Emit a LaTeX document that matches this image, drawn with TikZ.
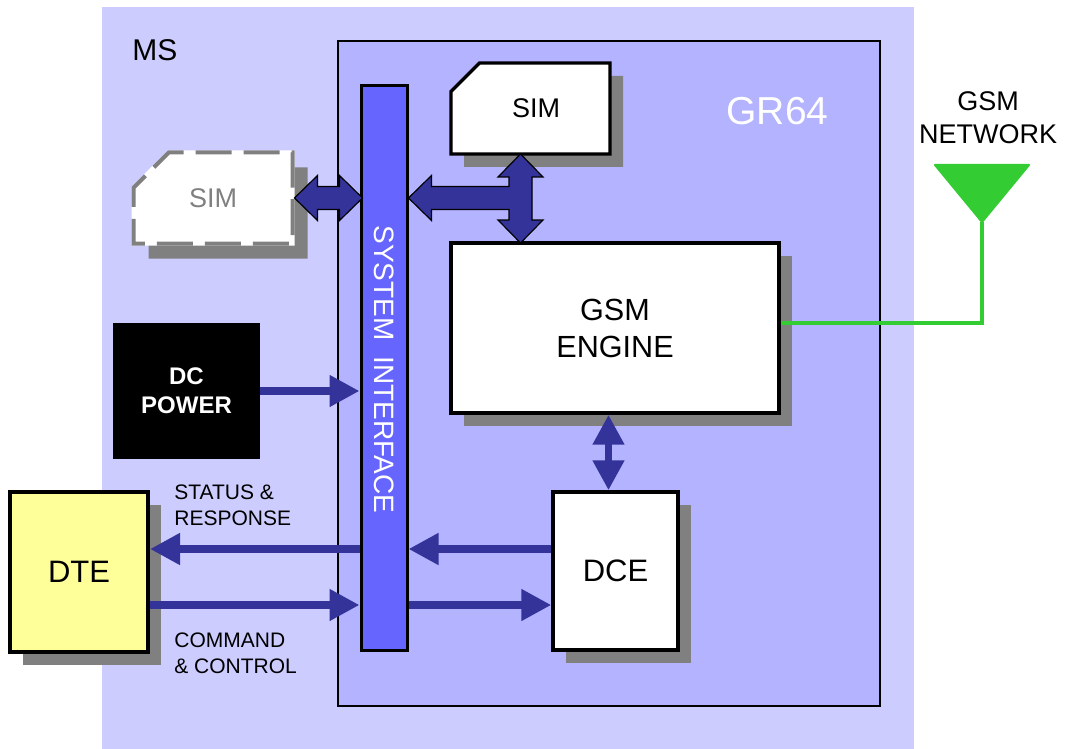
\documentclass[tikz,border=0pt]{standalone}
\usepackage{fontspec}
\setmainfont{Liberation Sans}
\usetikzlibrary{arrows.meta,shapes.misc,shadows}
\definecolor{msbg}{HTML}{CCCCFF}
\definecolor{grbg}{HTML}{B3B3FF}
\definecolor{busblue}{HTML}{6666FF}
\definecolor{arrowblue}{HTML}{333399}
\definecolor{dteyellow}{HTML}{FFFF99}
\definecolor{antgreen}{HTML}{33CC33}
\definecolor{shadowgray}{HTML}{808080}
\begin{document}
\begin{tikzpicture}[
    x=0.5pt, y=-0.5pt,
    box/.style = {draw=black, line width=1.7pt, fill=white, inner sep=0pt,
        drop shadow={shadow xshift=6.5pt, shadow yshift=-6.5pt, opacity=1, fill=shadowgray}},
    simcard/.style = {chamfered rectangle, chamfered rectangle corners=north west,
        chamfered rectangle xsep=10pt, chamfered rectangle ysep=9.5pt,
        minimum width=79.5pt, minimum height=45.5pt, font=\fontsize{13.5}{16}\selectfont},
    flow/.style = {draw=arrowblue, line width=3.9pt, -{Triangle[length=15pt, width=15pt]}},
    fat/.style = {fill=arrowblue, draw=black, line width=0.6pt},
    lbl/.style = {inner sep=0pt}
    ]
    \useasboundingbox (0,0) rectangle (1066,749);
    % frames
    \node[fill=msbg, minimum width=406pt, minimum height=371pt, inner sep=0pt] (ms) at (508,378) {};
    \node[lbl, anchor=base west, font=\fontsize{15}{18}\selectfont] (mslabel) at (132,61) {MS};
    \node[draw=black, line width=1.2pt, fill=grbg, minimum width=271pt, minimum height=332.5pt, inner sep=0pt] (gr) at (609,373.5) {};
    \node[lbl, anchor=base, text=white, font=\fontsize{19.5}{23}\selectfont] (grlabel) at (777.5,125) {GR64};
    % system interface
    \node[draw=black, line width=1.5pt, fill=busblue, minimum width=23pt, minimum height=282pt, inner sep=0pt] (bus) at (384,368) {};
    \node[lbl, rotate=-90, text=white, font=\fontsize{14}{17}\selectfont] (buslabel) at (384,369.5) {SYSTEM\ \ INTERFACE};
    % blocks
    \node[box, simcard] (sim) at (530.5,108.5) {\hspace*{5.5pt}SIM};
    \node[simcard, fill=white, draw=white, line width=2pt, text=shadowgray,
        drop shadow={shadow xshift=7.5pt, shadow yshift=-7.5pt, opacity=1, fill=shadowgray},
        postaction={draw=shadowgray, dash pattern=on 18pt off 6pt}] (extsim) at (213,198) {SIM};
    \node[box, minimum width=164pt, minimum height=85pt, align=center, font=\fontsize{15.3}{18.5}\selectfont] (engine) at (615,328) {GSM\\ENGINE};
    \node[box, minimum width=62.5pt, minimum height=79pt, font=\fontsize{15.5}{18}\selectfont] (dce) at (615.5,571) {DCE};
    \node[box, fill=dteyellow, line width=2pt, minimum width=69pt, minimum height=80pt, font=\fontsize{15.5}{18}\selectfont] (dte) at (79,572) {DTE};
    \node[fill=black, text=white, minimum width=73.5pt, minimum height=68pt, inner sep=0pt, align=center, font=\bfseries\fontsize{12}{14.5}\selectfont] (dc) at (186.5,391) {DC\\POWER};
    % texts
    \node[lbl, anchor=north west, align=left, font=\fontsize{10.5}{13}\selectfont] (stlabel) at (174,484) {STATUS \&\\RESPONSE};
    \node[lbl, anchor=north west, align=left, font=\fontsize{10.5}{13}\selectfont] (cmdlabel) at (174,632) {COMMAND\\\& CONTROL};
    \node[lbl, align=center, font=\fontsize{13.5}{16.5}\selectfont] (netlabel) at (988,117.5) {GSM\\NETWORK};
    % antenna
    \coordinate (anttip) at (982,222);
    \filldraw[antgreen, line width=1pt, line join=round] (anttip) -- ++(-47,-57) -- ++(94,0) -- cycle;
    \draw[antgreen, line width=2pt] ([yshift=2.5pt]engine.east) -| (anttip);
    % fat arrows
    \coordinate (sl) at (extsim.east);
    \draw[fat, shift={(sl)}] (0,0) -- (23,-22.5) -- (23,-11.5) -- (45,-11.5) -- (45,-22.5) -- (68,0)
        -- (45,22.5) -- (45,11.5) -- (23,11.5) -- (23,22.5) -- cycle;
    \draw[fat, shift={(bus.east |- sl)}] (0,0) -- (23,-22.5) -- (23,-11.5) -- (100.5,-11.5) -- (100.5,-21)
        -- (89.5,-21) -- (112,-44) -- (134.5,-21) -- (123.5,-21) -- (123.5,22) -- (134.5,22) -- (112,45)
        -- (89.5,22) -- (100.5,22) -- (100.5,11.5) -- (23,11.5) -- (23,22.5) -- cycle;
    % signal arrows
    \coordinate (st) at ([yshift=11.5pt]dte.east);
    \coordinate (cmd) at ([yshift=-16.5pt]dte.east);
    \draw[flow] (dc.east) -- (bus.west |- dc.east);
    \draw[flow] (bus.west |- st) -- (st);
    \draw[flow] (dce.west |- st) -- (bus.east |- st);
    \draw[flow] (cmd) -- (bus.west |- cmd);
    \draw[flow] (bus.east |- cmd) -- (dce.west |- cmd);
    \draw[flow, {Triangle[length=15pt, width=15pt]}-{Triangle[length=15pt, width=15pt]}]
        ([xshift=-3.25pt]engine.south) -- ([xshift=-3.25pt]engine.south |- dce.north);
\end{tikzpicture}
\end{document}
